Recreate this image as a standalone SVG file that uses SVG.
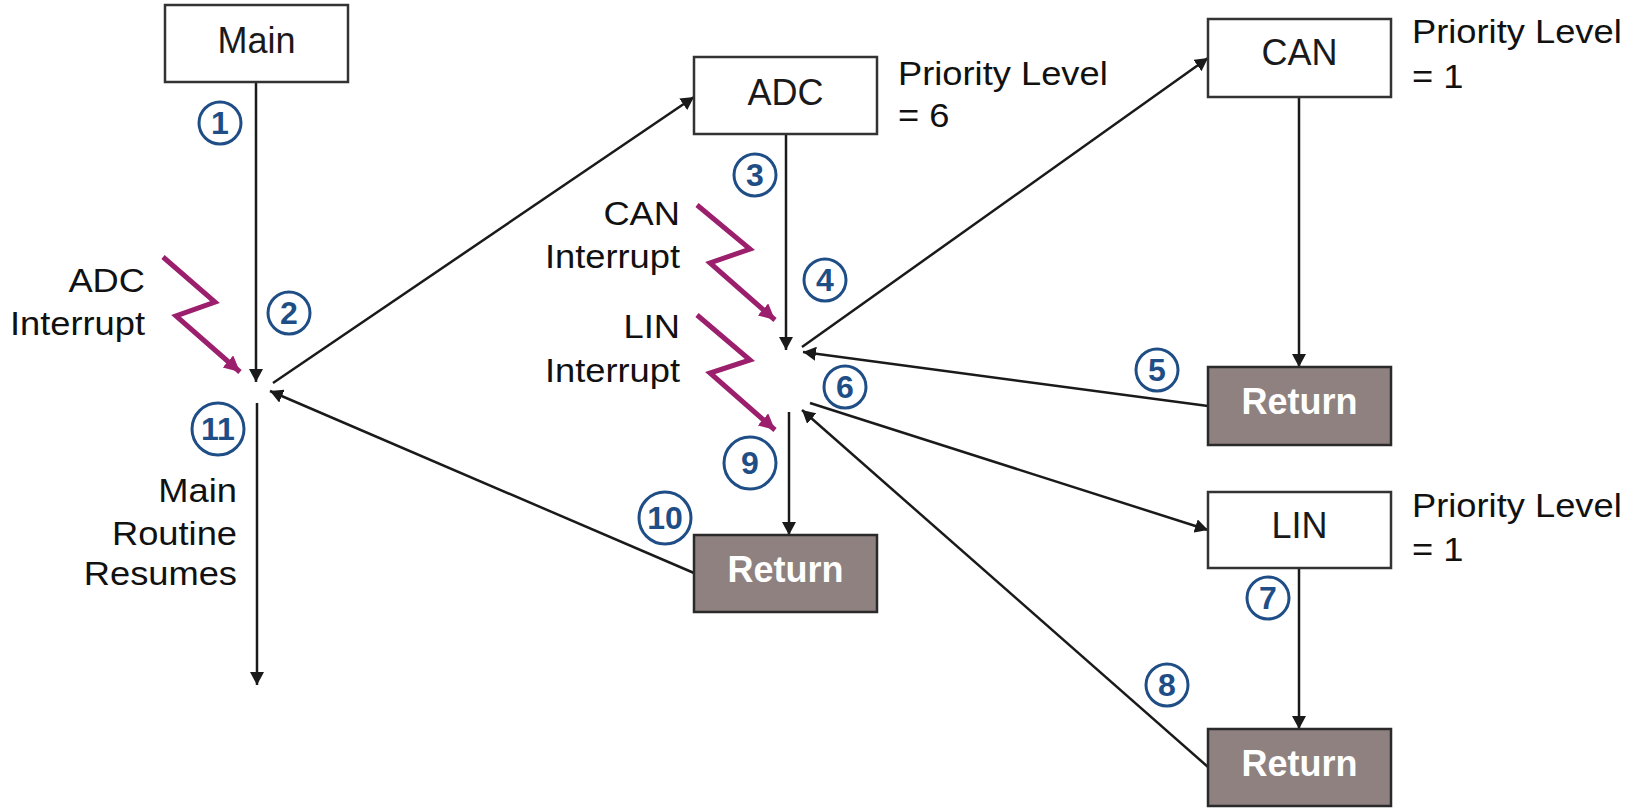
<svg xmlns="http://www.w3.org/2000/svg" width="1639" height="808" viewBox="0 0 1639 808">
  <style>
    .box { fill: #ffffff; stroke: #333333; stroke-width: 2.5; }
    .ret { fill: #8f8180; stroke: #2a2a2a; stroke-width: 2.5; }
    .boxtxt { font-family: "Liberation Sans", Arial, sans-serif; font-size: 36px; fill: #1a1a1a; text-anchor: middle; }
    .rettxt { font-family: "Liberation Sans", Arial, sans-serif; font-size: 36px; font-weight: bold; fill: #ffffff; text-anchor: middle; }
    .lbl { font-family: "Liberation Sans", Arial, sans-serif; font-size: 33px; fill: #111111; }
    .lblr { text-anchor: end; }
    .conn { fill: none; stroke: #1a1a1a; stroke-width: 2.5; marker-end: url(#arr); }
    .zig { fill: none; stroke: #9b1f6c; stroke-width: 5; stroke-linejoin: miter; marker-end: url(#zarr); }
    .num circle { fill: #ffffff; stroke: #1f4e86; stroke-width: 3; }
    .num text { font-family: "Liberation Sans", Arial, sans-serif; font-size: 32px; font-weight: bold; fill: #1f4e86; text-anchor: middle; }
  </style>
  <defs>
    <marker id="arr" markerUnits="userSpaceOnUse" markerWidth="14" markerHeight="14" refX="13" refY="7" orient="auto">
      <path d="M0,0 L13,7 L0,14 z" fill="#1a1a1a"/>
    </marker>
    <marker id="zarr" markerUnits="userSpaceOnUse" markerWidth="18" markerHeight="18" refX="16" refY="8" orient="auto">
      <path d="M0,0 L16,8 L0,16 z" fill="#9b1f6c"/>
    </marker>
  </defs>

  <rect width="1639" height="808" fill="#ffffff"/>

  <!-- connectors -->
  <g id="connectors">
    <line class="conn" x1="256" y1="82" x2="256" y2="382"/>
    <line class="conn" x1="273" y1="383" x2="694" y2="97"/>
    <line class="conn" x1="786" y1="134" x2="786" y2="350"/>
    <line class="conn" x1="802" y1="347" x2="1208" y2="58"/>
    <line class="conn" x1="1299" y1="97" x2="1299" y2="367"/>
    <line class="conn" x1="1208" y1="406" x2="803" y2="352"/>
    <line class="conn" x1="810" y1="403" x2="1208" y2="530"/>
    <line class="conn" x1="1299" y1="568" x2="1299" y2="729"/>
    <line class="conn" x1="1208" y1="767" x2="802" y2="410"/>
    <line class="conn" x1="789" y1="412" x2="789" y2="535"/>
    <line class="conn" x1="694" y1="573" x2="270" y2="391"/>
    <line class="conn" x1="257" y1="403" x2="257" y2="685"/>
  </g>

  <!-- interrupt signals -->
  <g id="interrupts">
    <polyline class="zig" points="163,257 215,302 176,316 240,372"/>
    <polyline class="zig" points="697,205 750,249 710,263 775,320"/>
    <polyline class="zig" points="697,315 750,360 710,373 775,430"/>
  </g>

  <!-- routine boxes -->
  <g id="main">
    <rect class="box" x="165" y="5" width="183" height="77"/>
    <text class="boxtxt" x="256.5" y="53">Main</text>
  </g>
  <g id="adc">
    <rect class="box" x="694" y="57" width="183" height="77"/>
    <text class="boxtxt" x="785.5" y="105">ADC</text>
  </g>
  <g id="can">
    <rect class="box" x="1208" y="19" width="183" height="78"/>
    <text class="boxtxt" x="1299.5" y="65">CAN</text>
  </g>
  <g id="lin">
    <rect class="box" x="1208" y="492" width="183" height="76"/>
    <text class="boxtxt" x="1299.5" y="538">LIN</text>
  </g>
  <g id="adc-return">
    <rect class="ret" x="694" y="535" width="183" height="77"/>
    <text class="rettxt" x="785.5" y="582">Return</text>
  </g>
  <g id="can-return">
    <rect class="ret" x="1208" y="367" width="183" height="78"/>
    <text class="rettxt" x="1299.5" y="414">Return</text>
  </g>
  <g id="lin-return">
    <rect class="ret" x="1208" y="729" width="183" height="77"/>
    <text class="rettxt" x="1299.5" y="776">Return</text>
  </g>

  <!-- labels -->
  <g id="labels">
    <text class="lbl lblr" transform="translate(145,292) scale(1.1,1)">ADC</text>
    <text class="lbl lblr" transform="translate(145,335) scale(1.1,1)">Interrupt</text>
    <text class="lbl lblr" transform="translate(680,225) scale(1.1,1)">CAN</text>
    <text class="lbl lblr" transform="translate(680,268) scale(1.1,1)">Interrupt</text>
    <text class="lbl lblr" transform="translate(680,338) scale(1.1,1)">LIN</text>
    <text class="lbl lblr" transform="translate(680,382) scale(1.1,1)">Interrupt</text>
    <text class="lbl lblr" transform="translate(237,502) scale(1.1,1)">Main</text>
    <text class="lbl lblr" transform="translate(237,545) scale(1.1,1)">Routine</text>
    <text class="lbl lblr" transform="translate(237,585) scale(1.1,1)">Resumes</text>
    <text class="lbl" transform="translate(898,85) scale(1.1,1)">Priority Level</text>
    <text class="lbl" transform="translate(898,127) scale(1.1,1)">= 6</text>
    <text class="lbl" transform="translate(1412,43) scale(1.1,1)">Priority Level</text>
    <text class="lbl" transform="translate(1412,88) scale(1.1,1)">= 1</text>
    <text class="lbl" transform="translate(1412,517) scale(1.1,1)">Priority Level</text>
    <text class="lbl" transform="translate(1412,561) scale(1.1,1)">= 1</text>
  </g>

  <!-- step numbers -->
  <g id="steps" class="num">
    <g id="step1"><circle cx="220" cy="123" r="21"/><text x="220" y="134">1</text></g>
    <g id="step2"><circle cx="289" cy="313" r="21"/><text x="289" y="324">2</text></g>
    <g id="step3"><circle cx="755" cy="175" r="21"/><text x="755" y="186">3</text></g>
    <g id="step4"><circle cx="825" cy="280" r="21"/><text x="825" y="291">4</text></g>
    <g id="step5"><circle cx="1157" cy="370" r="21"/><text x="1157" y="381">5</text></g>
    <g id="step6"><circle cx="845" cy="387" r="21"/><text x="845" y="398">6</text></g>
    <g id="step7"><circle cx="1268" cy="598" r="21"/><text x="1268" y="609">7</text></g>
    <g id="step8"><circle cx="1167" cy="685" r="21"/><text x="1167" y="696">8</text></g>
    <g id="step9"><circle cx="750" cy="463" r="26"/><text x="750" y="474">9</text></g>
    <g id="step10"><circle cx="665" cy="518" r="26"/><text x="665" y="529">10</text></g>
    <g id="step11"><circle cx="218" cy="429" r="26"/><text x="218" y="440">11</text></g>
  </g>
</svg>
